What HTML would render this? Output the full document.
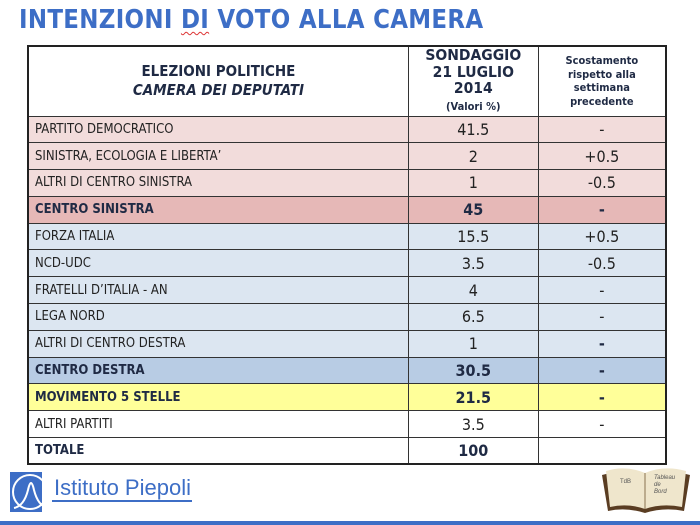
<!DOCTYPE html>
<html><head><meta charset="utf-8"><style>
*{margin:0;padding:0;box-sizing:border-box}
body{width:700px;height:525px;background:#fff;position:relative;overflow:hidden;font-family:"Liberation Sans","DejaVu Sans",sans-serif}
.title{position:absolute;left:19px;top:5px;font-size:25.5px;font-weight:bold;color:#3d6ec6;letter-spacing:0.3px;font-family:"DejaVu Sans Condensed","Liberation Sans",sans-serif}
.title u{text-decoration:underline wavy #d33;text-decoration-thickness:1px;text-underline-offset:3px}
table{position:absolute;left:27px;top:45px;width:640px;border-collapse:collapse;border:2px solid #222}
td{border:1px solid #333;height:26.8px;padding:0 6px;color:#222;font-size:13px;font-family:"DejaVu Sans Condensed","Liberation Sans",sans-serif}
td.v{text-align:center;font-size:16px}
td.b{font-weight:bold;color:#1f2a44}
tr.h td{height:70px;text-align:center;font-weight:bold;color:#1f2a44;background:#fff}
.p td{background:#f2dcdb}.cs td{background:#e6b8b7}.bl td{background:#dce6f1}.cd td{background:#b8cce4}.y td{background:#ffff99}.w td{background:#fff}
.foot{position:absolute;left:0;right:0;bottom:0;height:4px;background:#3d6ec6}
</style></head><body>
<div class="title">INTENZIONI <u>DI</u> VOTO ALLA CAMERA</div>
<table>
<colgroup><col style="width:382px"><col style="width:130px"><col style="width:128px"></colgroup>
<tr class="h"><td style="font-size:15px;line-height:19px">ELEZIONI POLITICHE<br><i>CAMERA DEI DEPUTATI</i></td>
<td style="font-size:15.5px;line-height:16.5px">SONDAGGIO<br>21 LUGLIO<br>2014<br><span style="font-size:11px">(Valori %)</span></td>
<td style="font-size:11px;line-height:13.5px">Scostamento<br>rispetto alla<br>settimana<br>precedente</td></tr>
<tr class="p"><td>PARTITO DEMOCRATICO</td><td class="v">41.5</td><td class="v">-</td></tr>
<tr class="p"><td>SINISTRA, ECOLOGIA E LIBERTA’</td><td class="v">2</td><td class="v">+0.5</td></tr>
<tr class="p"><td>ALTRI DI CENTRO SINISTRA</td><td class="v">1</td><td class="v">-0.5</td></tr>
<tr class="cs"><td class="b">CENTRO SINISTRA</td><td class="v b">45</td><td class="v b">-</td></tr>
<tr class="bl"><td>FORZA ITALIA</td><td class="v">15.5</td><td class="v">+0.5</td></tr>
<tr class="bl"><td>NCD-UDC</td><td class="v">3.5</td><td class="v">-0.5</td></tr>
<tr class="bl"><td>FRATELLI D’ITALIA - AN</td><td class="v">4</td><td class="v">-</td></tr>
<tr class="bl"><td>LEGA NORD</td><td class="v">6.5</td><td class="v">-</td></tr>
<tr class="bl"><td>ALTRI DI CENTRO DESTRA</td><td class="v">1</td><td class="v b">-</td></tr>
<tr class="cd"><td class="b">CENTRO DESTRA</td><td class="v b">30.5</td><td class="v b">-</td></tr>
<tr class="y"><td class="b">MOVIMENTO 5 STELLE</td><td class="v b">21.5</td><td class="v b">-</td></tr>
<tr class="w"><td>ALTRI PARTITI</td><td class="v">3.5</td><td class="v">-</td></tr>
<tr class="w"><td class="b">TOTALE</td><td class="v b">100</td><td class="v"></td></tr>
</table>
<svg style="position:absolute;left:8px;top:470px" width="190" height="44">
<rect x="2" y="2" width="32" height="40" fill="#3d6ec6"/>
<circle cx="22" cy="22" r="17" fill="none" stroke="#fff" stroke-width="2"/>
<path d="M6 38 Q16 36 20 20 Q23 6 26 20 Q30 36 40 38" fill="none" stroke="#fff" stroke-width="2"/>
<rect x="44" y="30" width="140" height="2" fill="#3d6ec6"/>
<text x="46" y="25" font-family="Liberation Sans,sans-serif" font-size="22" fill="#3d6ec6">Istituto Piepoli</text>
</svg>
<svg style="position:absolute;left:598px;top:465px" width="96" height="52">
<path d="M10 46 L4 10 Q25 4 47 12 Q70 4 92 10 L86 46 Q66 42 47 48 Q28 42 10 46Z" fill="#5a3d22"/>
<path d="M12 42 L8 6 Q28 0 47 8 Q66 0 88 6 L84 42 Q64 38 47 44 Q30 38 12 42Z" fill="#efe6cc"/>
<line x1="47" y1="8" x2="47" y2="44" stroke="#8a7150"/>
<text x="22" y="18" font-size="6" fill="#555" font-family="Liberation Sans,sans-serif">TdB</text>
<text x="56" y="14" font-size="6" fill="#555" font-style="italic" font-family="Liberation Sans,sans-serif">Tableau</text>
<text x="56" y="21" font-size="6" fill="#555" font-style="italic" font-family="Liberation Sans,sans-serif">de</text>
<text x="56" y="28" font-size="6" fill="#555" font-style="italic" font-family="Liberation Sans,sans-serif">Bord</text>
</svg>
<div class="foot"></div>
</body></html>
